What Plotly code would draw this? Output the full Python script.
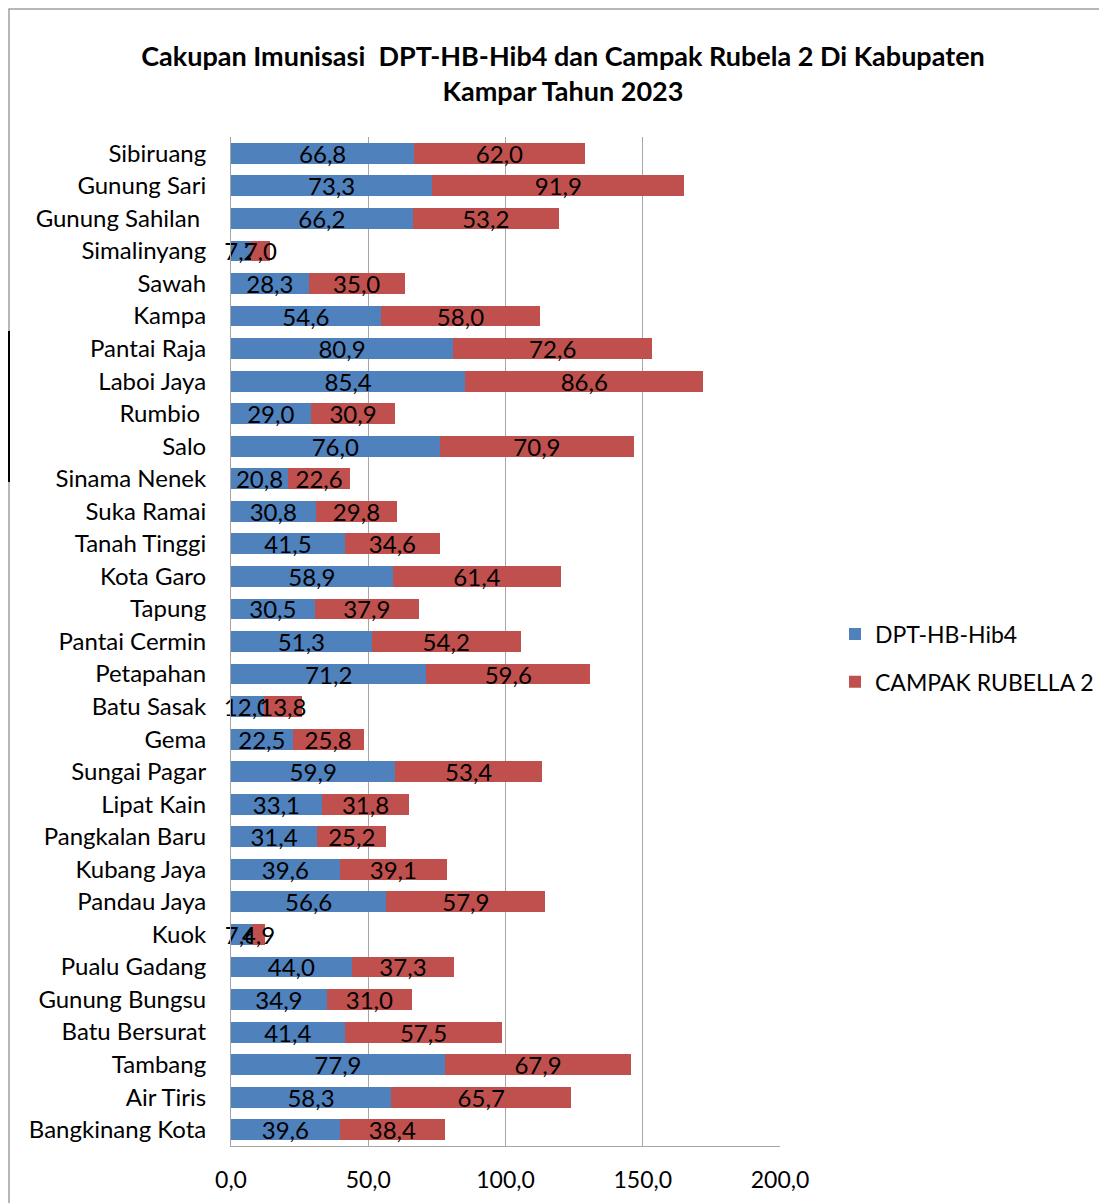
import plotly.graph_objects as go

categories = ["Sibiruang", "Gunung Sari", "Gunung Sahilan ", "Simalinyang", "Sawah", "Kampa",
              "Pantai Raja", "Laboi Jaya", "Rumbio ", "Salo", "Sinama Nenek", "Suka Ramai",
              "Tanah Tinggi", "Kota Garo", "Tapung", "Pantai Cermin", "Petapahan", "Batu Sasak",
              "Gema", "Sungai Pagar", "Lipat Kain", "Pangkalan Baru", "Kubang Jaya", "Pandau Jaya",
              "Kuok", "Pualu Gadang", "Gunung Bungsu", "Batu Bersurat", "Tambang", "Air Tiris",
              "Bangkinang Kota"]

dpt = [66.8, 73.3, 66.2, 7.2, 28.3, 54.6, 80.9, 85.4, 29.0, 76.0, 20.8, 30.8, 41.5, 58.9, 30.5,
       51.3, 71.2, 12.0, 22.5, 59.9, 33.1, 31.4, 39.6, 56.6, 7.6, 44.0, 34.9, 41.4, 77.9, 58.3, 39.6]

campak = [62.0, 91.9, 53.2, 7.0, 35.0, 58.0, 72.6, 86.6, 30.9, 70.9, 22.6, 29.8, 34.6, 61.4, 37.9,
          54.2, 59.6, 13.8, 25.8, 53.4, 31.8, 25.2, 39.1, 57.9, 4.9, 37.3, 31.0, 57.5, 67.9, 65.7, 38.4]

tick_vals = [0, 50, 100, 150, 200]

FONT = "Lato"
OFF = 8  # page offset of the plot div

W, H = 1107, 1203
# page coordinates of the plot area in the reference
PL, PR, PT, PB = 231, 780, 137, 1146
L, R, T, B = PL - OFF, PR - OFF, PT - OFF, PB - OFF
pw, ph = PR - PL, PB - PT

def px(x):  # page x -> paper x
    return (x - PL) / pw

def py(y):  # page y -> paper y
    return (PB - y) / ph

fig = go.Figure()
fig.add_trace(go.Bar(
    y=categories, x=dpt, orientation="h", name="DPT-HB-Hib4",
    marker=dict(color="#4F81BD", line=dict(width=0)),
    texttemplate="%{x:.1f}", textposition="inside", insidetextanchor="middle",
    textangle=0, textfont=dict(color="black", size=24, family=FONT),
    legendgroup="a", cliponaxis=False,
))
fig.add_trace(go.Bar(
    y=categories, x=campak, orientation="h", name="CAMPAK RUBELLA 2",
    marker=dict(color="#C0504D", line=dict(width=0)),
    texttemplate="%{x:.1f}", textposition="inside", insidetextanchor="middle",
    textangle=0, textfont=dict(color="black", size=24, family=FONT),
    legendgroup="b", cliponaxis=False,
))

fig.update_layout(
    width=W, height=H,
    barmode="stack", bargap=0.36,
    separators=",.",
    paper_bgcolor="white", plot_bgcolor="white",
    margin=dict(l=L, r=W - R, t=T, b=H - B, autoexpand=False),
    font=dict(family=FONT, size=21, color="black"),
    title=dict(
        text="<b>Cakupan Imunisasi  DPT-HB-Hib4 dan Campak Rubela 2 Di Kabupaten<br>Kampar Tahun 2023</b>",
        x=(563 - OFF) / W, xanchor="center", xref="container",
        y=1 - (66 - OFF) / H, yanchor="middle", yref="container",
        font=dict(size=27, family=FONT, color="black"),
    ),
    uniformtext=dict(minsize=24, mode="show"),
    xaxis=dict(
        range=[0, 200], tickvals=tick_vals, tickformat=".1f",
        showgrid=True, gridcolor="#A6A6A6", gridwidth=1,
        showline=True, linecolor="#A6A6A6", linewidth=1,
        ticks="", ticklabelstandoff=13, zeroline=False,
        tickfont=dict(size=23, family=FONT),
    ),
    yaxis=dict(
        autorange="reversed", showline=True, linecolor="#A6A6A6", linewidth=1,
        showgrid=False, ticks="", ticklabelstandoff=19,
        tickfont=dict(size=24, family=FONT),
    ),
    legend=dict(
        x=px(835), xanchor="left", y=py(658), yanchor="middle",
        traceorder="grouped", tracegroupgap=15,
        font=dict(size=23, family=FONT), bgcolor="rgba(0,0,0,0)",
        itemwidth=30,
    ),
    showlegend=True,
)

# outer chart border (gray) and the black frame fragment on the left
fig.add_shape(type="rect", xref="paper", yref="paper",
              x0=px(9), x1=px(1125), y0=py(1225), y1=py(9),
              line=dict(color="#A0A0A0", width=1.5), fillcolor="rgba(0,0,0,0)", layer="below")
fig.add_shape(type="rect", xref="paper", yref="paper",
              x0=px(-5), x1=px(9), y0=py(481), y1=py(332),
              line=dict(color="black", width=2), fillcolor="rgba(0,0,0,0)")

fig.write_html("out.html")
